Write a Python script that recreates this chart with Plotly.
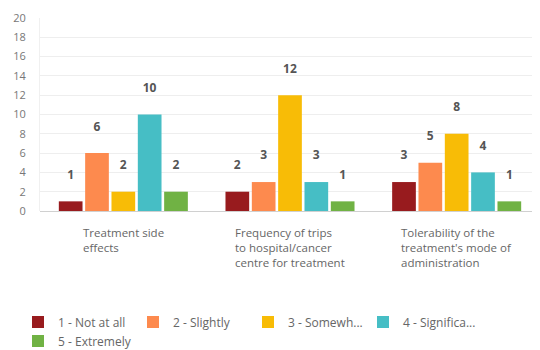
import plotly.graph_objects as go

categories = ["Treatment side effects",
              "Frequency of trips to hospital/cancer centre for treatment",
              "Tolerability of the treatment's mode of administration"]
cat_labels = ["Treatment side<br>effects",
              "Frequency of trips<br>to hospital/cancer<br>centre for treatment",
              "Tolerability of the<br>treatment's mode of<br>administration"]
series_names = ["1 - Not at all", "2 - Slightly", "3 - Somewh...", "4 - Significa...", "5 - Extremely"]
values = {
    "1 - Not at all": [1, 2, 3],
    "2 - Slightly": [6, 3, 5],
    "3 - Somewh...": [2, 12, 8],
    "4 - Significa...": [10, 3, 4],
    "5 - Extremely": [2, 1, 1],
}
colors = ["#981B1E", "#FD8A4E", "#F8BC06", "#46BEC5", "#70B244"]
y_ticks = list(range(0, 21, 2))

fig = go.Figure()
for name, col in zip(series_names, colors):
    fig.add_trace(go.Bar(
        x=categories, y=values[name], name=name, marker_color=col,
        marker_line_width=0,
        texttemplate="<b>%{y}</b><br> ", textposition="outside",
        textfont=dict(size=12, color="#555555"), cliponaxis=False,
    ))

for cat, lab in zip(categories, cat_labels):
    fig.add_annotation(x=cat, xref="x", y=-0.06, yref="paper", yanchor="top",
                       xanchor="center", align="left", text=lab, showarrow=False,
                       font=dict(size=11.5, color="#666666"))

fig.update_layout(
    width=532, height=342,
    margin=dict(l=32, r=0, t=10, b=139, autoexpand=False),
    barmode="group", bargap=0.21, bargroupgap=0.1,
    plot_bgcolor="white", paper_bgcolor="white",
    font=dict(family="Open Sans, sans-serif", color="#666666"),
    xaxis=dict(showticklabels=False, showline=False, showgrid=False, zeroline=False,
               automargin=False),
    yaxis=dict(range=[0, 20], tickvals=y_ticks, showgrid=True, gridcolor="#EEEEEE",
               gridwidth=1, zeroline=True, zerolinecolor="#D0D0D0", zerolinewidth=1,
               tickfont=dict(size=11, color="#777777"), ticks="", showline=True,
               linecolor="#F0F0F0", automargin=False, ticklabelstandoff=11),
    legend=dict(orientation="h", x=-0.044, xanchor="left", y=-0.50, yanchor="top",
                entrywidth=70, entrywidthmode="pixels",
                font=dict(size=12, color="#666666"), itemsizing="constant"),
    showlegend=True,
)
fig.write_html("out.html")
